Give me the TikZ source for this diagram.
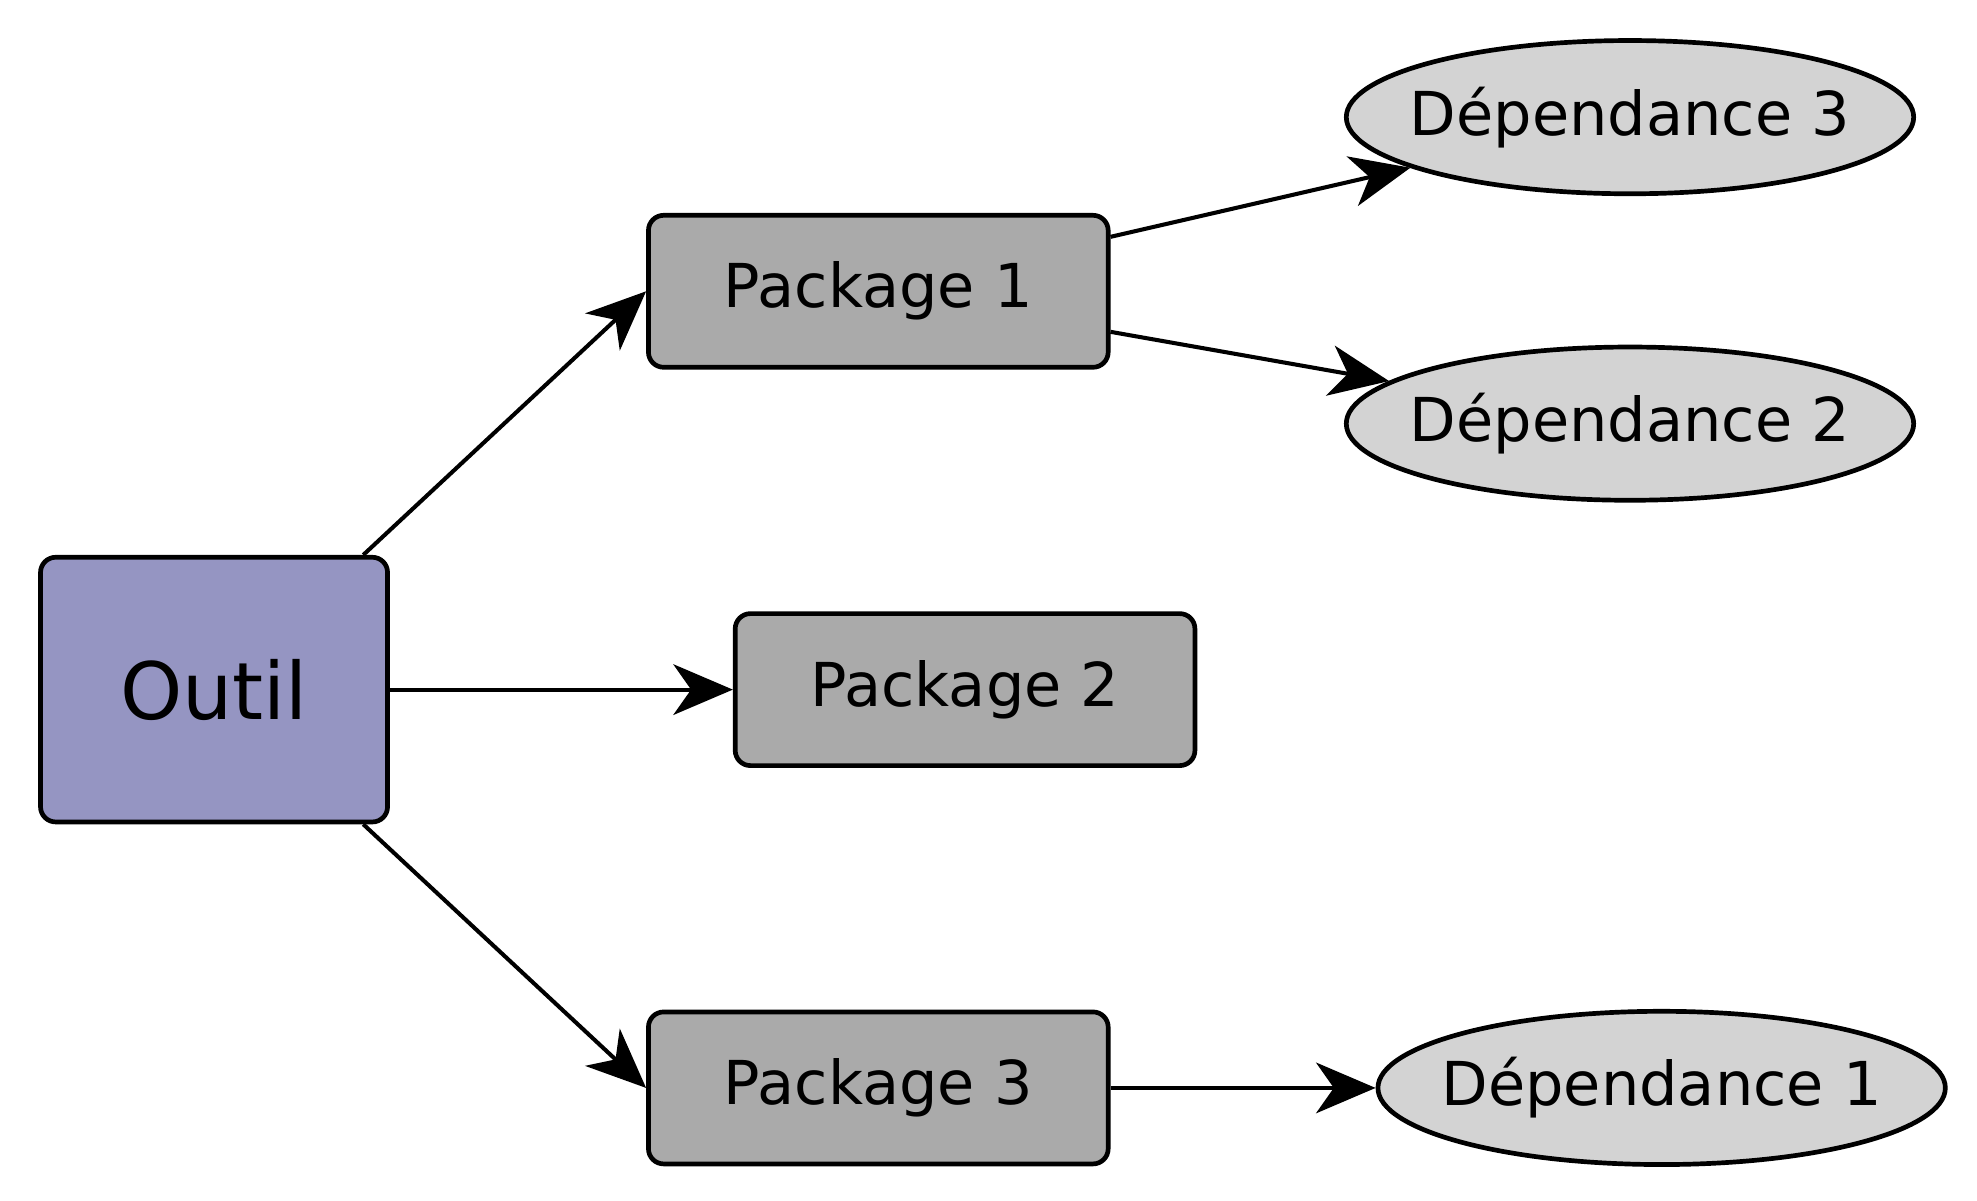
\documentclass[tikz,border=0pt]{standalone}
\usepackage{fontspec}
\setmainfont{DejaVu Sans}
\usetikzlibrary{shapes.geometric,arrows.meta,calc}
\definecolor{outilfill}{RGB}{149,149,194}
\definecolor{pkgfill}{RGB}{170,170,170}
\definecolor{depfill}{RGB}{211,211,211}
\newcommand{\zw}[1]{\makebox[0pt][c]{#1}}
\begin{document}
\begin{tikzpicture}[x=1pt,y=-1pt,
  outilbox/.style={draw,line width=3.7pt,fill=outilfill,rounded corners=12pt,minimum width=274pt,minimum height=209pt,inner sep=0pt,font=\fontsize{62.5}{70}\selectfont},
  pkgbox/.style={draw,line width=3.7pt,fill=pkgfill,rounded corners=12pt,minimum width=363pt,minimum height=120pt,inner sep=0pt,font=\fontsize{47.8}{56}\selectfont},
  depnode/.style={draw,ellipse,line width=3.7pt,fill=depfill,minimum width=448pt,minimum height=121pt,inner sep=0pt,font=\fontsize{47.8}{56}\selectfont},
  conn/.style={line width=3.2pt,-{Stealth[length=47pt,width=40pt,inset=14pt]}}]
\useasboundingbox (0,0) rectangle (1561,947.5);
\node[outilbox] (outil) at (169,544.5) {Outil};
\node[pkgbox] (p1) at (693.5,230) {Package 1};
\node[pkgbox] (p2) at (762,544.5) {Package 2};
\node[pkgbox] (p3) at (693.5,859) {Package 3};
\node[depnode] (d3) at (1287,92.5) {\zw{Dépendance 3}};
\node[depnode] (d2) at (1287,334.5) {\zw{Dépendance 2}};
\node[depnode] (d1) at (1312,859) {\zw{Dépendance 1}};
\draw[conn] ($(outil.north east)+(-21,0)$) -- (p1.west);
\draw[conn] (outil.east) -- (p2.west);
\draw[conn] ($(outil.south east)+(-21,0)$) -- (p3.west);
\draw[conn] ($(p1.east)+(0,-43)$) -- (d3);
\draw[conn] ($(p1.east)+(0,32)$) -- (d2);
\draw[conn] (p3.east) -- (d1);
\end{tikzpicture}
\end{document}
